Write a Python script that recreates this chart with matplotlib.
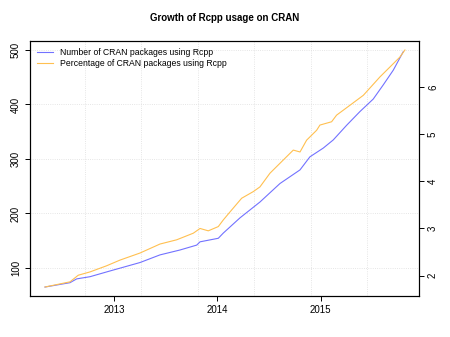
import numpy as np
import matplotlib
matplotlib.use('Agg')
import matplotlib.pyplot as plt

plt.rcParams['font.family'] = ['Liberation Sans', 'DejaVu Sans']

# number of CRAN packages using Rcpp (left axis), x in decimal years
count_years = [2012.332, 2012.574, 2012.639, 2012.768, 2012.961, 2013.252, 2013.445,
               2013.639, 2013.801, 2013.833, 2014.010, 2014.058, 2014.220, 2014.413,
               2014.607, 2014.801, 2014.897, 2015.026, 2015.123, 2015.253, 2015.381,
               2015.510, 2015.607, 2015.704, 2015.801]
count_vals = [65, 73, 80, 84, 94.5, 110, 124, 133, 142, 148, 154.5, 164, 192, 221,
              255, 280, 304, 320, 335, 362, 387, 410, 436, 463, 497]

# percentage of CRAN packages using Rcpp (right axis)
pct_years = [2012.332, 2012.574, 2012.654, 2012.768, 2012.929, 2013.058, 2013.252,
             2013.445, 2013.607, 2013.768, 2013.833, 2013.913, 2014.010, 2014.058,
             2014.123, 2014.236, 2014.348, 2014.413, 2014.510, 2014.639, 2014.736,
             2014.801, 2014.865, 2014.962, 2014.994, 2015.107, 2015.155, 2015.285,
             2015.414, 2015.575, 2015.672, 2015.768, 2015.817]
pct_vals = [1.76, 1.87, 2.01, 2.08, 2.21, 2.33, 2.48, 2.67, 2.76, 2.90, 3.00, 2.95,
            3.04, 3.18, 3.35, 3.64, 3.78, 3.88, 4.17, 4.45, 4.66, 4.62, 4.87, 5.08,
            5.19, 5.26, 5.40, 5.61, 5.82, 6.21, 6.42, 6.63, 6.78]

year_ticks = [2013, 2014, 2015]
year_labels = ['2013', '2014', '2015']
left_ticks = [100, 200, 300, 400, 500]
right_ticks = [2, 3, 4, 5, 6]
# R's grid() follows the default axis ticks (every 200 days since 1970)
grid_years = [2012.715, 2013.262, 2013.810, 2014.358, 2014.905, 2015.453]

blue = '#7272ff'
orange = '#ffc050'

fig = plt.figure(figsize=(4.5, 3.37), dpi=100)
ax = fig.add_axes([0.0667, 0.1217, 0.8644, 0.7566])
ax2 = ax.twinx()

l1, = ax.plot(count_years, count_vals, color=blue, lw=0.8)
l2, = ax2.plot(pct_years, pct_vals, color=orange, lw=0.8)

ax.set_xlim(2012.187, 2015.953)
ax.set_ylim(48.6, 516.5)
ax2.set_ylim(1.57, 6.97)

ax.set_xticks(year_ticks)
ax.set_xticklabels(year_labels)
ax.set_xticks(grid_years, minor=True)
ax.set_yticks(left_ticks)
ax2.set_yticks(right_ticks)

ax.grid(True, which='minor', axis='x', color='#dddddd', ls=':', lw=0.6)
ax.grid(True, which='major', axis='y', color='#dddddd', ls=':', lw=0.6)
ax.tick_params(which='minor', length=0)
ax.tick_params(which='major', length=3.5, width=0.7, labelsize=7, pad=3)
ax2.tick_params(length=3.5, width=0.7, labelsize=7, pad=3)
for lab in ax.get_yticklabels() + ax2.get_yticklabels():
    lab.set_rotation(90)
    lab.set_va('center')

for a in (ax, ax2):
    for s in a.spines.values():
        s.set_linewidth(0.8)

ax.legend([l1, l2], ['Number of CRAN packages using Rcpp',
                     'Percentage of CRAN packages using Rcpp'],
          loc='upper left', frameon=False, fontsize=6.2, handlelength=1.85,
          borderaxespad=0.4, borderpad=0.4, labelspacing=0.3, handletextpad=0.8)

fig.text(0.5, 1 - 18 / 337, 'Growth of Rcpp usage on CRAN', fontsize=7,
         fontweight='bold', ha='center', va='center')

fig.savefig('out.png', dpi=100)
